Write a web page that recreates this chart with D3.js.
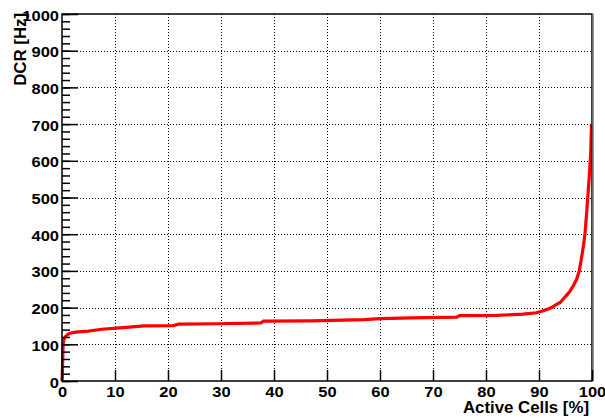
<!DOCTYPE html>
<html>
<head>
<meta charset="utf-8">
<script src="https://cdn.jsdelivr.net/npm/d3@7"></script>
<style>
  body { margin: 0; background: #fff; }
  svg text { font-family: "Liberation Sans", Arial, sans-serif; font-weight: bold; }
</style>
</head>
<body>
<div id="chart"></div>
<script>
// Valores: fracción de celdas activas (%) vs DCR (Hz)
const activeCells = [0, 0.05, 0.1, 0.2, 0.4, 0.7, 1.2, 2, 3, 5, 7.5, 11, 15.5, 21, 22, 29, 37.5, 38, 47, 57,
  60, 66, 74.5, 75, 82, 87, 89.5, 90.5, 91.5, 92.5, 93.3, 94, 94.5, 95.1, 95.8, 96.5, 97.1, 97.6,
  98.05, 98.4, 98.7, 99.0, 99.3, 99.5, 99.75, 99.9];
const dcr = [0, 15, 40, 100, 115, 122, 128, 132, 134, 136, 141, 145, 150, 151, 155, 156, 158, 163, 164, 167,
  170, 172, 174, 178, 179, 182, 186, 190, 195, 201, 209, 214, 222, 232, 244, 260, 277, 300,
  338, 370, 405, 460, 520, 560, 620, 698];
const xTicks = [0, 10, 20, 30, 40, 50, 60, 70, 80, 90, 100];
const yTicks = [0, 100, 200, 300, 400, 500, 600, 700, 800, 900, 1000];
const yMinorTicks = d3.range(0, 1001, 20);

const width = 605, height = 419;
const margin = { top: 14, right: 13, bottom: 38, left: 62 };

const svg = d3.select("#chart")
  .append("svg")
  .attr("width", width)
  .attr("height", height);

const x = d3.scaleLinear().domain([0, 100]).range([margin.left, width - margin.right]);
const y = d3.scaleLinear().domain([0, 1000]).range([height - margin.bottom, margin.top]);

const x0 = x(0), x1 = x(100), y0 = y(0), y1 = y(1000);

// Ensancha el texto (la imagen original está algo estirada en horizontal)
function stretch(sel, k) {
  sel.each(function() {
    const w = this.getComputedTextLength();
    d3.select(this).attr("textLength", w * k).attr("lengthAdjust", "spacingAndGlyphs");
  });
}

// Rejilla punteada
const grid = svg.append("g")
  .attr("stroke", "#000")
  .attr("stroke-width", 1)
  .attr("stroke-dasharray", "1,2");

grid.selectAll(".gx")
  .data(xTicks.slice(1, -1))
  .enter()
  .append("line")
  .attr("x1", d => x(d) + 0.5).attr("x2", d => x(d) + 0.5)
  .attr("y1", y1).attr("y2", y0);

grid.selectAll(".gy")
  .data(yTicks.slice(1, -1))
  .enter()
  .append("line")
  .attr("y1", d => Math.round(y(d)) + 0.5).attr("y2", d => Math.round(y(d)) + 0.5)
  .attr("x1", x0).attr("x2", x1);

// Curva
const line = d3.line()
  .x(d => x(d[0]))
  .y(d => y(d[1]));

svg.append("path")
  .datum(activeCells.map((v, i) => [v, dcr[i]]))
  .attr("fill", "none")
  .attr("stroke", "#ff0000")
  .attr("stroke-width", 3.2)
  .attr("stroke-linejoin", "miter")
  .attr("d", line);

// Marco
svg.append("rect")
  .attr("x", x0).attr("y", y1)
  .attr("width", x1 - x0).attr("height", y0 - y1)
  .attr("fill", "none")
  .attr("stroke", "#000")
  .attr("stroke-width", 1.5);

svg.append("line")
  .attr("x1", x1 + 1).attr("x2", x1 + 1)
  .attr("y1", y1).attr("y2", y0)
  .attr("stroke", "#777")
  .attr("stroke-width", 1.5);

// Ejes con marcas tipo ROOT
const xAxis = d3.axisBottom(x).tickValues(xTicks).tickSize(-11).tickPadding(5).tickFormat(d3.format("d"));
const gx = svg.append("g").attr("transform", `translate(0,${y0})`).call(xAxis);
gx.select(".domain").remove();
gx.selectAll(".tick line").attr("stroke", "#000").attr("stroke-width", 1.5);
gx.selectAll(".tick text").attr("font-size", 15).attr("fill", "#000").call(stretch, 1.1);

const yMinor = svg.append("g").attr("transform", `translate(${x0},0)`)
  .call(d3.axisLeft(y).tickValues(yMinorTicks).tickSize(-8).tickFormat(""));
yMinor.select(".domain").remove();
yMinor.selectAll(".tick line").attr("stroke", "#000").attr("stroke-width", 1.5);

const yAxis = d3.axisLeft(y).tickValues(yTicks).tickSize(-16).tickPadding(3).tickFormat(d3.format("d"));
const gy = svg.append("g").attr("transform", `translate(${x0},0)`).call(yAxis);
gy.select(".domain").remove();
gy.selectAll(".tick line").attr("stroke", "#000").attr("stroke-width", 1.5);
gy.selectAll(".tick text").attr("font-size", 15).attr("fill", "#000").attr("x", -3).attr("dy", "0.4em")
  .call(stretch, 1.1);

// Títulos de ejes
svg.append("text")
  .attr("x", x1 - 3)
  .attr("y", 413)
  .attr("text-anchor", "end")
  .attr("font-size", 16)
  .text("Active Cells [%]")
  .call(stretch, 1.05);

svg.append("text")
  .attr("transform", `translate(26,${y1 - 1}) rotate(-90)`)
  .attr("text-anchor", "end")
  .attr("font-size", 16)
  .text("DCR [Hz]")
  .call(stretch, 1.05);
</script>
</body>
</html>
